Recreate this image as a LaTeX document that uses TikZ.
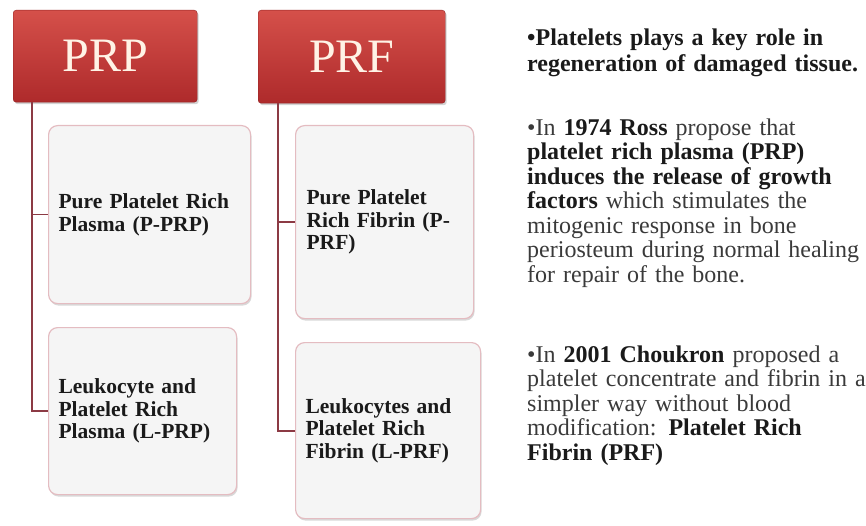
\documentclass[tikz,border=0pt]{standalone}
\usepackage{fontspec}
\setmainfont{Liberation Serif}
\usetikzlibrary{shadows}

\definecolor{headtop}{HTML}{D5504A}
\definecolor{headbot}{HTML}{AE2A2B}
\definecolor{headtext}{HTML}{FFF3E6}
\definecolor{boxfill}{HTML}{F5F5F5}
\definecolor{boxline}{HTML}{E4BCC1}
\definecolor{linkcol}{HTML}{8C3A44}
\definecolor{inkcol}{HTML}{1A1A1A}
\definecolor{graycol}{HTML}{3A3A3A}

\newcommand\boldpart[1]{\textbf{\textcolor{inkcol}{#1}}}

\begin{document}
\begin{tikzpicture}[x=1pt,y=-1pt,
      head node/.style={anchor=north west,rounded corners=3pt,top color=headtop,bottom color=headbot,
        draw=headbot!85!black,line width=0.4pt,text=headtext,font=\fontsize{48}{48}\selectfont,
        drop shadow={shadow xshift=1.5pt,shadow yshift=-2pt,opacity=0.35}},
      sub node/.style={anchor=north west,rounded corners=9pt,fill=boxfill,draw=boxline,line width=1.2pt,
        inner xsep=10pt,align=left,text=inkcol,font=\fontsize{21.5}{22.5}\selectfont\bfseries,
        drop shadow={shadow xshift=1pt,shadow yshift=-2pt,opacity=0.3}},
      link/.style={draw=linkcol,line width=1.8pt},
      fact/.style={anchor=north west,inner sep=0pt,text width=346pt,align=left,text=graycol,
        font=\fontsize{24}{24.5}\selectfont}]

    \useasboundingbox (0,0) rectangle (866,526);

    % the two headings
    \node[head node,minimum width=184pt,minimum height=92pt] (prp) at (13,10) {PRP};
    \node[head node,minimum width=187pt,minimum height=93pt] (prf) at (258,10) {PRF};

    \node[sub node,text width=182pt,minimum height=178pt] (pprp) at (48,125) {Pure Platelet Rich\\Plasma (P-PRP)};
    \node[sub node,text width=168pt,minimum height=167pt] (lprp) at (48,327) {Leukocyte and\\Platelet Rich\\Plasma (L-PRP)};
    \node[sub node,text width=156pt,inner xsep=11pt,minimum height=193pt] (pprf) at (295,125) {Pure Platelet\\Rich Fibrin (P-\\PRF)};
    \node[sub node,text width=165pt,minimum height=176pt] (lprf) at (295,342) {Leukocytes and\\Platelet Rich\\Fibrin (L-PRF)};

    % branches
    \draw[link] ([xshift=19pt]prp.south west) |- (pprp.west);
    \draw[link] ([xshift=19pt]prp.south west) |- (lprp.west);
    \draw[link] ([xshift=20pt]prf.south west) |- (pprf.west);
    \draw[link] ([xshift=20pt]prf.south west) |- (lprf.west);

    % notes on the right
    \node[fact,font=\fontsize{24}{26.5}\selectfont] (fact1) at (527,28.5) {\boldpart{•Platelets plays a key role in\\regeneration of damaged tissue.}};
    \node[fact] (fact2) at (527,118.5) {•In \boldpart{1974 Ross} propose that\\
      \boldpart{platelet rich plasma (PRP)}\\
      \boldpart{induces the release of growth}\\
      \boldpart{factors} which stimulates the\\
      mitogenic response in bone\\
      periosteum during normal healing\\
      for repair of the bone.};
    \node[fact] (fact3) at (527,345.5) {•In \boldpart{2001 Choukron} proposed a\\
      platelet concentrate and fibrin in a\\
      simpler way without blood\\
      modification: \boldpart{Platelet Rich}\\
      \boldpart{Fibrin (PRF)}};
\end{tikzpicture}
\end{document}
